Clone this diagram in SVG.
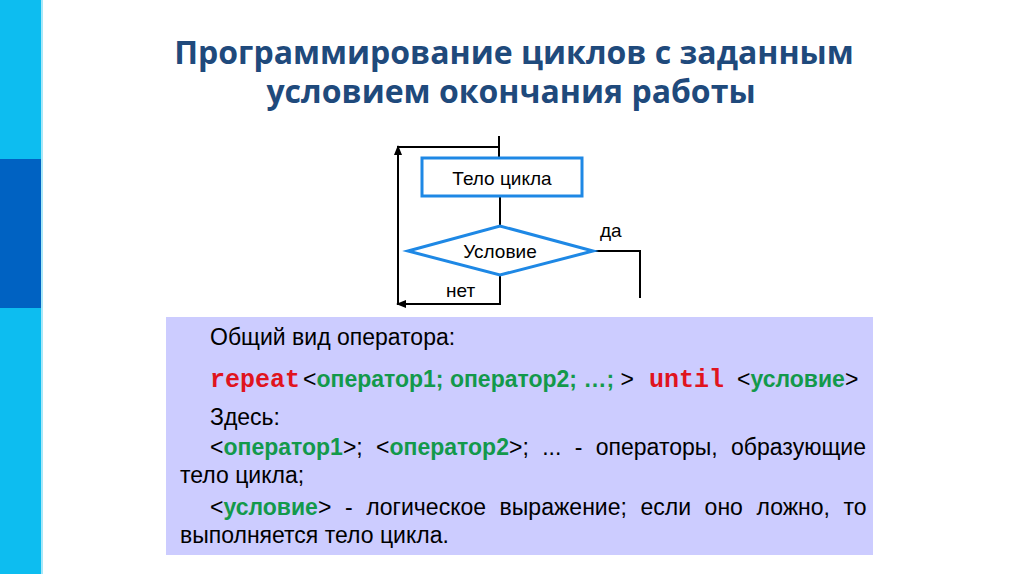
<svg xmlns="http://www.w3.org/2000/svg" width="1024" height="574" viewBox="0 0 1024 574">
<defs>
<style>
.title{font-family:"Open Sans","Liberation Sans",sans-serif;font-weight:bold;font-size:32px;fill:#1F4A7C;text-anchor:middle}
.fc{font-family:"Liberation Sans",Arial,sans-serif;font-size:19px;fill:#000}
.body{font-family:"Liberation Sans",Arial,sans-serif;font-size:23px;fill:#000}
.g{fill:#13994B;font-weight:bold}
.kw{font-family:"Liberation Mono","Courier New",monospace;font-weight:bold;font-size:25px;fill:#E0141E}
.shape{fill:#fff;stroke:#1E88E5;stroke-width:3}
.conn{fill:none;stroke:#000;stroke-width:2}
</style>
<marker id="arr" viewBox="0 0 10 10" refX="9" refY="5" markerWidth="10" markerHeight="10" markerUnits="userSpaceOnUse" orient="auto">
<path d="M0,1 L10,5 L0,9 Z" fill="#000"/>
</marker>
</defs>
<rect width="1024" height="574" fill="#fff"/>
<g id="sidebar">
<rect x="0" y="0" width="41" height="574" fill="#0DBDF0"/>
<rect x="0" y="159" width="41" height="149" fill="#0062C2"/>
<rect x="41" y="0" width="2" height="574" fill="#A8E8F8"/>
</g>
<g id="title">
<text class="title" x="514" y="64">Программирование циклов с заданным</text>
<text class="title" x="511" y="103">условием окончания работы</text>
</g>
<g id="connectors">
<path class="conn" d="M499,136 V158"/>
<path class="conn" d="M500,196 V226"/>
<path class="conn" d="M593,251 H640 V298"/>
<path class="conn" d="M500,275 V304 H397" marker-end="url(#arr)"/>
<path class="conn" d="M398,304 V146" marker-end="url(#arr)"/>
<path class="conn" d="M398,147 H499"/>
</g>
<g id="body">
<rect class="shape" x="422" y="158" width="160" height="38"/>
<text class="fc" x="502" y="185" text-anchor="middle">Тело цикла</text>
</g>
<g id="condition">
<polygon class="shape" points="408,251 500,226 593,251 500,275"/>
<text class="fc" x="500" y="258" text-anchor="middle">Условие</text>
</g>
<g id="labels">
<text class="fc" x="600" y="237">да</text>
<text class="fc" x="446" y="297">нет</text>
</g>
<g id="description">
<rect x="166" y="317" width="707" height="238" fill="#CCCCFF"/>
<text class="body" x="210" y="345">Общий вид оператора:</text>
<text class="kw" x="210" y="387">repeat</text>
<text class="body" x="303" y="387">&lt;<tspan class="g">оператор1; оператор2; …;</tspan> &gt;</text>
<text class="kw" x="649" y="387">until</text>
<text class="body" x="737" y="387">&lt;<tspan class="g">условие</tspan>&gt;</text>
<text class="body" x="210" y="425">Здесь:</text>
<text class="body" x="210" y="455" word-spacing="7">&lt;<tspan class="g">оператор1</tspan>&gt;; &lt;<tspan class="g">оператор2</tspan>&gt;; ... - операторы, образующие</text>
<text class="body" x="180" y="483">тело цикла;</text>
<text class="body" x="210" y="515" word-spacing="7.2">&lt;<tspan class="g">условие</tspan>&gt; - логическое выражение; если оно ложно, то</text>
<text class="body" x="180" y="543">выполняется тело цикла.</text>
</g>
</svg>
